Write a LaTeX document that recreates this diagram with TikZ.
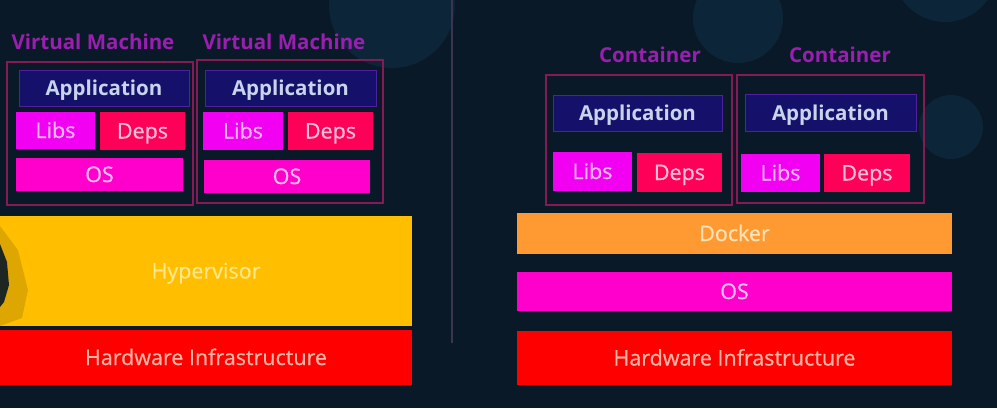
\documentclass[tikz,border=0pt]{standalone}
\usepackage{fontspec}
\setmainfont{Open Sans}
\newfontfamily\medfont[FakeBold=0.7]{Open Sans}
\definecolor{bg}{HTML}{0A1927}
\definecolor{bubble}{HTML}{0C2538}
\definecolor{lblpurple}{HTML}{9A1FB0}
\definecolor{frame}{HTML}{851A55}
\definecolor{appfill}{HTML}{15106A}
\definecolor{appdraw}{HTML}{5020A0}
\definecolor{apptext}{HTML}{C8D4EC}
\definecolor{libsfill}{HTML}{F200F2}
\definecolor{libstext}{HTML}{F8B8F8}
\definecolor{depsfill}{HTML}{FF0058}
\definecolor{depstext}{HTML}{FFC0D6}
\definecolor{osfill}{HTML}{FF00CC}
\definecolor{ostext}{HTML}{FFC0F0}
\definecolor{hypfill}{HTML}{FFBF00}
\definecolor{hyptext}{HTML}{FFE68A}
\definecolor{hwfill}{HTML}{FF0000}
\definecolor{hwtext}{HTML}{FFB4A4}
\definecolor{dockfill}{HTML}{FF9A33}
\definecolor{docktext}{HTML}{FFE2B8}
\definecolor{divider}{HTML}{3C3552}
\newcommand{\blk}[7]{\node[#6, minimum width={(#4-#2)*1pt}, minimum height={(#5-#3)*1pt}] (#1) at ({(#2+#4)/2},{(#3+#5)/2}) {#7};}
\tikzset{
  base/.style={inner sep=0pt, outer sep=0pt, anchor=center, text height=15pt, text depth=0pt,
    font=\medfont\fontsize{21.5}{25}\selectfont},
  framebox/.style={base, draw=frame, line width=1.3pt},
  appbox/.style={base, fill=appfill, draw=appdraw, line width=0.8pt, text=apptext,
    font=\fontsize{20.5}{24}\selectfont\bfseries},
  libsbox/.style={base, fill=libsfill, text=libstext},
  depsbox/.style={base, fill=depsfill, text=depstext},
  osbox/.style={base, fill=osfill, text=ostext},
  hypbox/.style={base, fill=hypfill, text=hyptext},
  hwbox/.style={base, fill=hwfill, text=hwtext},
  dockbox/.style={base, fill=dockfill, text=docktext},
  lbl/.style={base, text=lblpurple, font=\fontsize{20.5}{24}\selectfont\bfseries},
}
\begin{document}
\begin{tikzpicture}[x=1pt,y=-1pt]
\useasboundingbox (0,0) rectangle (997,408);
\fill[bg] (0,0) rectangle (997,408);
% faint background bubbles
\begin{scope}
\clip (0,0) rectangle (997,408);
\fill[bubble] (392,5) circle (63);
\fill[bubble] (738,18) circle (45);
\fill[bubble] (945,-30) circle (52);
\fill[bubble] (951,127) circle (32);
\end{scope}
% divider
\draw[divider, line width=1.6pt] (452,0) -- (452,343);

% ---------- Virtual machines ----------
\node[lbl] (vmlbl1) at (93,42) {Virtual Machine};
\node[lbl] (vmlbl2) at (284,42) {Virtual Machine};
\blk{vm1}{7}{62}{193}{205}{framebox}{}
\blk{vm2}{197}{60}{383}{203}{framebox}{}
\blk{app1}{19}{70}{189}{106}{appbox}{Application}
\blk{libs1}{16}{112}{95}{149}{libsbox}{Libs}
\blk{deps1}{100}{112}{185}{150}{depsbox}{Deps}
\blk{os1}{16}{158}{183}{191}{osbox}{OS}
\blk{app2}{205}{70}{376}{106}{appbox}{Application}
\blk{libs2}{203}{112}{283}{150}{libsbox}{Libs}
\blk{deps2}{288}{112}{373}{150}{depsbox}{Deps}
\blk{os2}{204}{160}{370}{193}{osbox}{OS}
\blk{hyp}{0}{216}{412}{326}{hypbox}{Hypervisor}
\blk{hw1}{0}{330}{412}{385}{hwbox}{Hardware Infrastructure}
% dark shape at left edge of hypervisor
\fill[hypfill!75!black, opacity=0.5] (0,226) -- (18,250) -- (28,290) -- (22,318) -- (0,326) -- cycle;
\fill[bg, opacity=0.9] (0,244) -- (7,262) -- (9,285) -- (4,302) -- (0,307) -- cycle;

% ---------- Containers ----------
\node[lbl] (ctlbl1) at (650,55) {Container};
\node[lbl] (ctlbl2) at (840,55) {Container};
\blk{ct1}{546}{75}{732}{205}{framebox}{}
\blk{ct2}{737}{75}{924}{203}{framebox}{}
\blk{capp1}{553}{95}{722}{131}{appbox}{Application}
\blk{capp2}{745}{94}{916}{131}{appbox}{Application}
\blk{clibs1}{553}{152}{632}{191}{libsbox}{Libs}
\blk{cdeps1}{637}{153}{722}{192}{depsbox}{Deps}
\blk{clibs2}{741}{154}{820}{192}{libsbox}{Libs}
\blk{cdeps2}{824}{154}{910}{192}{depsbox}{Deps}
\blk{docker}{517}{213}{952}{254}{dockbox}{Docker}
\blk{cos}{517}{272}{952}{311}{osbox}{OS}
\blk{hw2}{517}{331}{952}{385}{hwbox}{Hardware Infrastructure}
\end{tikzpicture}
\end{document}
